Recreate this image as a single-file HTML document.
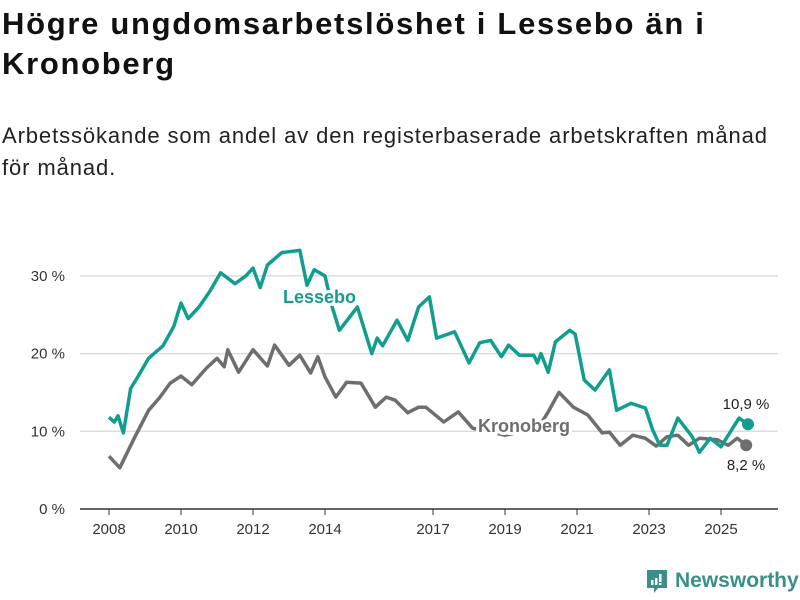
<!DOCTYPE html>
<html><head><meta charset="utf-8"><style>
body{margin:0;background:#fff;font-family:"Liberation Sans","DejaVu Sans",sans-serif;}
#wrap{position:relative;width:800px;height:600px;overflow:hidden;}
h1{position:absolute;left:2px;top:4px;margin:0;font-size:31px;line-height:40px;font-weight:bold;color:#111;width:790px;letter-spacing:1.7px;white-space:nowrap;}
.sub{position:absolute;left:2px;top:120px;font-size:22px;line-height:32px;color:#222;width:798px;letter-spacing:0.9px;white-space:nowrap;}
.logo{position:absolute;left:645px;top:568px;display:flex;align-items:center;gap:6px;color:#3a8f87;font-size:21px;font-weight:bold;}
</style></head><body>
<div id="wrap">
<h1>Högre ungdomsarbetslöshet i Lessebo än i<br>Kronoberg</h1>
<div class="sub">Arbetssökande som andel av den registerbaserade arbetskraften månad<br>för månad.</div>
<svg id="chart" width="800" height="600" style="position:absolute;left:0;top:0"></svg>
<div class="logo">
<svg width="24" height="26" viewBox="0 0 24 26"><path d="M2 2h20v18h-9l-4 5v-5H2z" fill="#3a8f87"/><rect x="6" y="12" width="2.5" height="5" fill="#fff"/><rect x="10" y="10" width="2.5" height="7" fill="#fff"/><rect x="14" y="6" width="2.5" height="8" fill="#fff"/><rect x="14" y="15" width="2.5" height="2" fill="#fff"/></svg>
<span>Newsworthy</span></div>
</div>
<script>
const yTicks=[0,10,20,30];
const xTicks=[2008,2010,2012,2014,2017,2019,2021,2023,2025];
const lesYears=[2008.0,2008.15,2008.25,2008.4,2008.6,2008.8,2009.1,2009.5,2009.8,2010.0,2010.2,2010.5,2010.8,2011.1,2011.5,2011.8,2012.0,2012.2,2012.4,2012.8,2013.3,2013.5,2013.7,2014.0,2014.2,2014.4,2014.9,2015.3,2015.45,2015.6,2016.0,2016.3,2016.6,2016.9,2017.1,2017.6,2018.0,2018.3,2018.6,2018.9,2019.1,2019.4,2019.8,2019.9,2020.0,2020.2,2020.4,2020.8,2020.95,2021.2,2021.5,2021.9,2022.1,2022.5,2022.9,2023.1,2023.3,2023.5,2023.8,2024.2,2024.4,2024.7,2025.0,2025.5,2025.75];
const lesVals=[11.8,11.2,12,9.8,15.5,17,19.4,21,23.5,26.5,24.5,26,28,30.4,29,30,31,28.5,31.4,33,33.3,28.8,30.8,30,26,23,26,20,22,21,24.3,21.7,26,27.3,22,22.8,18.8,21.4,21.7,19.6,21.1,19.8,19.8,18.8,20,17.6,21.5,23,22.5,16.6,15.3,17.9,12.7,13.6,13,10.2,8.2,8.2,11.7,9.3,7.3,9.1,8,11.7,10.9];
const kroYears=[2008.0,2008.3,2008.7,2009.1,2009.4,2009.7,2010.0,2010.3,2010.7,2011.0,2011.2,2011.3,2011.6,2012.0,2012.4,2012.6,2013.0,2013.3,2013.6,2013.8,2014.0,2014.3,2014.6,2015.0,2015.4,2015.7,2015.95,2016.3,2016.6,2016.8,2017.3,2017.7,2018.1,2018.5,2019.0,2019.5,2020.0,2020.2,2020.5,2020.9,2021.3,2021.7,2021.9,2022.2,2022.55,2022.9,2023.2,2023.5,2023.8,2024.1,2024.4,2024.9,2025.2,2025.45,2025.7];
const kroVals=[6.8,5.3,9.1,12.7,14.3,16.2,17.1,16,18.1,19.4,18.3,20.5,17.6,20.5,18.4,21.1,18.5,19.8,17.5,19.6,17,14.4,16.3,16.2,13.1,14.4,14,12.4,13.1,13.1,11.2,12.5,10.4,10,9.5,10,11,12.5,15,13.1,12.1,9.8,9.9,8.2,9.5,9.1,8.1,9.3,9.5,8.2,9.1,8.9,8.2,9.1,8.2];
const NS='http://www.w3.org/2000/svg';
const svg=document.getElementById('chart');
const X=y=>109+(y-2008)*36;
const Y=v=>509-v*7.77;
function mk(t,a){const e=document.createElementNS(NS,t);for(const k in a)e.setAttribute(k,a[k]);svg.appendChild(e);return e;}
yTicks.forEach(t=>{
  const l=mk('line',{x1:80,x2:778,y1:Y(t),y2:Y(t),stroke:t?'#ddd':'#333','stroke-width':1.5});
  
  
  const tx=mk('text',{x:65,y:Y(t)+5,'text-anchor':'end','font-size':15,fill:'#333'});
  tx.textContent=t+' %';
  
  
});
xTicks.forEach(t=>{
  const l=mk('line',{x1:X(t),x2:X(t),y1:509,y2:515,stroke:'#333','stroke-width':1});
  
  
  const tx=mk('text',{x:X(t),y:534,'text-anchor':'middle','font-size':15,fill:'#333'});
  tx.textContent=t;
  
  
});
function line(ys,vs,col,name){
  const d=ys.map((y,i)=>(i?'L':'M')+X(y).toFixed(1)+','+Y(vs[i]).toFixed(1)).join('');
  const p=mk('path',{d:d,fill:'none',stroke:col,'stroke-width':3.5,'stroke-linejoin':'round'});
  
  
  const n=ys.length-1;
  const c=mk('circle',{cx:X(ys[n]),cy:Y(vs[n]),r:6,fill:col});
  
  
}
line(kroYears,kroVals,'#6e6e6e','kronoberg');
line(lesYears,lesVals,'#119e8f','lessebo');
function lab(x,y,txt,col,size,w,name,anchor){
  const t=mk('text',{x:x,y:y,'font-size':size,'font-weight':w,fill:col,stroke:'#fff','stroke-width':6,'paint-order':'stroke','text-anchor':anchor||'start'});
  t.textContent=txt;
  
  
}
lab(283,303,'Lessebo','#119e8f',18,'bold','lessebo-label');
lab(478,432,'Kronoberg','#6e6e6e',18,'bold','kronoberg-label');
const lv=lesVals[lesVals.length-1], kv=kroVals[kroVals.length-1];
lab(746,409,lv.toFixed(1).replace('.',',')+' %','#222',15,'normal','lessebo-value-label','middle');
lab(746,470,kv.toFixed(1).replace('.',',')+' %','#222',15,'normal','kronoberg-value-label','middle');
</script>
</body></html>
